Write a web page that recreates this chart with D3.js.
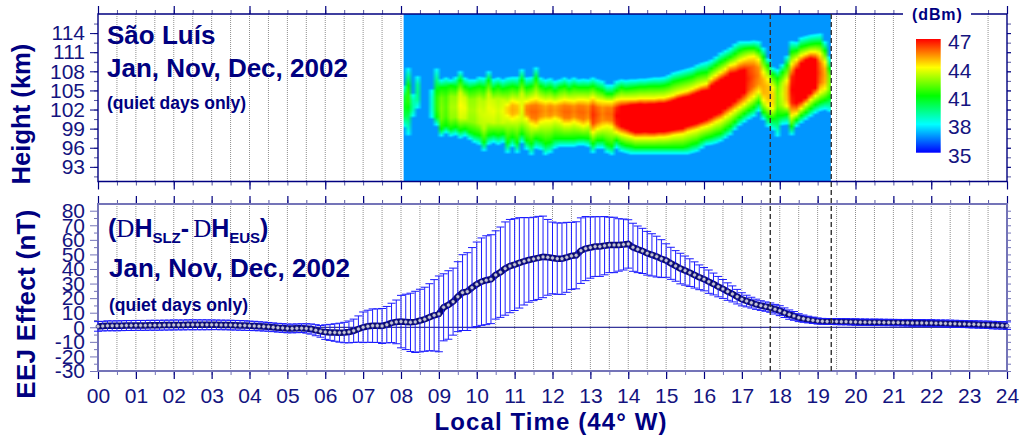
<!DOCTYPE html>
<html>
<head>
<meta charset="utf-8">
<script src="https://cdn.jsdelivr.net/npm/d3@7"></script>
<style>
body { margin: 0; background: #fff; }
text { font-family: "Liberation Sans", Arial, sans-serif; }
</style>
</head>
<body>
<svg id="chart" width="1020" height="436"></svg>
<script>
// heatmap columns, one every 1/8 h from 08:00 (heights in km of each power contour)
let heatStart = 8;
let heatStep = 1 / 8;
let heatClip = [8.07, 19.35];

let top38 = [
    105.6,108.4,104.3,107.1,null,null,105.0,108.3,
    106.6,106.9,106.6,107.0,107.9,106.9,106.6,106.6,
    107.0,106.9,107.9,106.7,106.9,106.6,106.9,107.0,
    107.0,108.2,106.9,107.0,108.5,106.9,106.6,106.8,
    106.4,106.6,106.9,106.6,106.9,106.6,106.7,106.6,
    106.9,106.6,106.4,105.8,105.8,106.4,106.6,106.5,
    106.6,106.6,106.7,106.7,106.8,106.9,106.9,107.0,
    107.3,107.7,107.9,108.1,108.3,108.5,108.9,109.2,
    109.4,109.7,110.2,110.8,111.2,111.6,112.2,112.6,
    112.6,112.6,112.7,112.6,111.6,109.9,108.5,108.2,
    109.0,110.3,112.6,112.5,113.2,113.4,113.6,113.7,
    113.8,112.6,110.2,109.0];
let top41 = [
    null,105.8,null,null,null,null,null,105.0,
    105.5,105.5,105.8,105.6,106.6,105.6,105.3,105.5,
    105.7,105.5,106.6,105.3,105.7,105.3,105.5,105.7,
    105.5,106.6,105.5,105.7,106.9,105.7,105.3,105.5,
    105.0,105.5,105.7,105.3,105.7,105.5,105.5,105.5,
    105.7,105.3,105.0,104.5,104.5,105.0,105.5,105.3,
    105.4,105.5,105.6,105.6,105.7,105.7,105.7,105.8,
    106.0,106.4,106.6,106.8,107.0,107.2,107.6,107.8,
    107.9,108.5,109.0,109.5,109.9,110.3,110.8,111.3,
    111.6,111.7,111.7,111.3,110.3,109.0,107.6,107.0,
    107.9,109.0,111.1,111.3,111.9,112.1,112.3,112.4,
    112.4,111.3,108.5,107.4];
let top44 = [
    null,null,null,null,null,null,null,null,
    null,null,null,null,null,null,null,null,
    null,null,null,null,null,null,102.8,103.4,
    103.2,null,103.3,103.6,103.8,103.5,103.3,103.4,
    103.2,103.4,103.6,103.5,103.4,103.6,103.6,103.5,
    103.9,103.5,103.4,103.3,103.3,103.6,103.7,103.7,
    103.7,103.7,103.8,103.8,103.8,103.8,103.9,103.9,
    104.1,104.3,104.6,104.8,105.0,105.3,105.6,105.9,
    106.1,106.9,107.4,107.9,108.4,109.0,109.2,109.7,
    110.0,110.3,110.4,109.9,107.9,106.8,105.5,null,
    null,106.6,109.2,109.9,110.5,110.8,111.1,111.1,
    110.8,109.5,null,null];
let bot44 = [
    null,null,null,null,null,null,null,null,
    null,null,null,null,null,null,null,null,
    null,null,null,null,null,null,101.1,100.6,
    100.9,null,100.6,99.8,99.5,100.1,100.3,100.3,
    100.6,100.3,99.8,99.8,100.1,99.8,99.5,99.8,
    98.5,99.0,99.3,99.5,99.3,98.5,98.2,98.0,
    97.8,97.6,97.6,97.6,97.6,97.6,97.7,97.7,
    97.8,98.0,98.1,98.2,98.5,98.7,98.9,99.2,
    99.4,99.7,100.1,100.4,100.9,101.4,101.9,102.4,
    102.9,103.5,104.1,104.8,103.5,102.7,102.2,null,
    null,102.6,101.1,101.4,102.2,102.9,103.6,104.2,
    104.8,105.3,null,null];
let bot41 = [
    null,102.4,null,null,null,null,null,100.9,
    99.0,99.5,99.0,99.3,98.8,99.0,98.5,98.2,
    98.0,96.9,98.0,98.2,98.0,98.2,96.9,97.7,
    96.9,98.2,97.2,96.7,97.5,97.2,96.7,96.9,
    97.5,97.5,97.5,97.5,97.5,97.6,97.6,97.5,
    96.7,97.2,97.2,96.6,96.3,97.2,96.7,96.4,
    96.3,96.1,96.1,96.1,96.1,96.1,96.1,96.1,
    96.1,96.1,96.1,96.1,96.3,96.6,96.8,97.3,
    97.6,97.8,98.1,98.3,98.9,99.4,100.1,100.8,
    101.4,101.9,102.4,103.1,101.6,100.9,100.6,101.1,
    101.1,101.3,99.4,100.4,101.1,101.6,102.2,102.8,
    103.2,103.5,104.0,103.7];
let bot38 = [
    99.5,98.2,101.1,102.4,null,null,100.9,99.7,
    98.0,98.5,98.0,98.2,97.7,98.0,97.5,97.0,
    96.7,95.7,96.7,97.0,96.7,97.0,95.4,96.4,
    95.4,97.0,95.9,95.1,96.1,95.9,95.1,95.4,
    96.1,96.4,96.4,96.4,96.4,96.6,96.6,96.4,
    95.4,96.1,96.1,95.4,95.1,96.1,95.6,95.4,
    95.2,95.2,95.2,95.2,95.2,95.2,95.2,95.2,
    95.2,95.2,95.2,95.2,95.2,95.4,95.6,96.1,
    96.6,96.7,96.9,97.2,97.7,98.2,99.0,99.7,
    100.2,100.7,101.1,101.9,100.6,99.5,99.0,98.0,
    99.8,99.9,98.2,99.5,100.1,100.6,101.1,101.6,
    102.0,102.2,101.9,101.9];
let peakPower = [
    40.5,41.5,39,39.5,null,null,38.5,41.5,
    42.5,42,43,43,44,43.8,43,43,
    43.5,43.5,43.8,43.8,43.5,43.8,44.5,45,
    44.8,43.8,45.5,45.8,45.8,45.5,45.2,45.5,
    45.2,45.5,45.8,45.8,45.5,45.8,45.8,45.5,
    46.5,46,45.5,45.8,45.8,47,48,48.5,
    49.5,50,50,49.5,50,50,50,50,
    50,50.5,50.5,50.5,50,50,50,50,
    49.5,49.5,49.5,49.5,49,49,48.5,48,
    47.5,46.5,46,45.5,45,44.8,44.5,42.5,
    43.5,44.8,47,48.5,50,51,50.5,49,
    46,45,42.5,42];

// EEJ effect, one value every 1/8 h from 00:00 to 24:00 (nT)
let eejMean = [
    0.6,0.8,1,1,1,1.1,1.2,1.2,
    1.3,1.3,1.3,1.4,1.4,1.4,1.5,1.5,
    1.6,1.6,1.6,1.7,1.7,1.7,1.7,1.7,
    1.7,1.7,1.6,1.6,1.5,1.4,1.3,1.2,
    1.0,0.9,0.7,0.5,0.3,0,-0.3,-0.5,
    -0.8,-0.8,-0.7,-0.6,-0.8,-1.2,-2,-2.8,
    -3.3,-3.5,-3.6,-3.7,-3.6,-3.2,-2.4,-1.2,
    0,0.7,1.1,1.1,0.9,1.8,3,3.7,
    3.9,3.7,3.4,3.7,4.6,5.5,6.9,8.2,
    9.2,13.7,15.3,17.6,21,23.8,24.5,27.2,
    29.5,31.3,32.3,33,35.9,37.8,40.3,42,
    43,44.2,45.3,46.2,46.9,47.6,48.3,48,
    47.6,47.1,47.1,48,49,49.4,52.6,54,
    54.7,55.4,55.4,56,56.5,56.5,56.5,56.8,
    57.2,54.9,53.5,52.4,50.8,49.7,48.5,47.1,
    45.8,43.9,42.1,40.3,38.9,37.5,35.9,34.3,
    33,31.3,29.7,27.9,26.3,24.5,22.9,21,
    19.2,18,16.9,15.8,14.9,14.2,13.5,12.4,
    11.4,10,8.7,7.8,6.6,5.9,5.3,4.8,
    4.3,4.1,4,4,3.9,3.8,3.8,3.7,
    3.6,3.5,3.5,3.4,3.4,3.4,3.3,3.3,
    3.2,3.2,3.1,3.1,3,3,3,2.9,
    2.9,2.8,2.7,2.6,2.5,2.4,2.3,2.2,
    2.1,2,1.9,1.8,1.7,1.5,1.4,1.3,
    1.1];
let eejSd = [
    3.3,3.3,3.4,3.4,3.4,3.4,3.4,3.4,
    3.4,3.4,3.4,3.4,3.4,3.4,3.4,3.4,
    3.4,3.4,3.4,3.4,3.4,3.4,3.4,3.4,
    3.3,3.3,3.3,3.3,3.3,3.3,3.3,3.3,
    3.2,3.2,3.1,3.1,3,3,3,3,
    3,3,3,3,3.2,3.5,3.8,4,
    5,5.5,6,6.5,7,7.5,8,9,
    10.5,11,11.5,11.5,12,12.5,13.5,15,
    18,19,20,21,21.5,22,23,24.5,
    26,23,23.5,23,24,26,26.7,27.5,
    29,30,30.5,30.5,30.3,31,32,32,
    31.5,31,30,29,28.6,28.5,28,26,
    24.6,24.5,24.5,24,23,23,22.5,22,
    21,20.5,20.5,20,19,19,18,17.5,
    16.6,16.5,16,15.5,15,14.5,14,13,
    11.5,11,10.5,10.5,10,9.5,9,8.5,
    8,8,7.5,7,6.5,6,5.5,5,
    4.5,4,3.7,3.5,3.3,3.2,3.2,3.3,
    3.4,3.3,3.2,3,2.7,2.5,2.3,2.2,
    2.1,2,2,2,2.1,2.1,2.1,2.1,
    2.2,2.2,2.2,2.2,2.2,2.2,2.2,2.2,
    2.2,2.2,2.2,2.3,2.3,2.3,2.3,2.3,
    2.3,2.3,2.3,2.4,2.4,2.4,2.4,2.4,
    2.4,2.5,2.5,2.5,2.5,2.6,2.6,2.6,
    2.6];
let eejStep = 1 / 8;

let hourLabels = ["00","01","02","03","04","05","06","07","08","09","10","11","12",
    "13","14","15","16","17","18","19","20","21","22","23","24"];
let heightTicks = [93, 96, 99, 102, 105, 108, 111, 114];
let eejTicks = [-30, -20, -10, 0, 10, 20, 30, 40, 50, 60, 70, 80];
let legendTicks = [35, 38, 41, 44, 47];
let legendColors = ["#0000ff", "#00ffff", "#00ff00", "#ffff00", "#ff0000"];
let boundaryHours = [17.75, 19.36];

let navy = "#000080";
let softNavy = "#7474b8";
let backgroundPower = 36.77;

let svg = d3.select("#chart");

let left = 98, right = 1007;
let topPanel = { y0: 14, y1: 181.5 };
let botPanel = { y0: 204, y1: 371 };

let xScale = d3.scaleLinear().domain([0, 24]).range([left, right]);
let yHeight = d3.scaleLinear().domain([90.7, 117]).range([topPanel.y1, topPanel.y0]);
let yEej = d3.scaleLinear().domain([-30, 84.6]).range([botPanel.y1, botPanel.y0]);
let colorScale = d3.scaleLinear().domain(legendTicks).range(legendColors).clamp(true);

let halfHours = d3.range(0, 24.5, 0.5);
let wholeHours = d3.range(0, 25, 1);
let evenHours = d3.range(0, 25, 2);

// dotted half hour lines, both panels
[topPanel, botPanel].forEach(function(p) {
    svg.append("g").selectAll("line")
        .data(halfHours.filter(function(h) { return h > 0 && h < 24; }))
        .enter().append("line")
        .attr("x1", function(d) { return xScale(d); })
        .attr("x2", function(d) { return xScale(d); })
        .attr("y1", p.y0).attr("y2", p.y1)
        .attr("stroke", "#8f8f8f")
        .attr("stroke-width", 1)
        .attr("stroke-dasharray", "1,1");
});

// power at any height in one column, from the contours of that column
function columnProfile(i) {
    if (top38[i] === null) return function() { return backgroundPower; };
    let upper = top44[i] !== null ? top44[i] : (top41[i] !== null ? top41[i] : top38[i]);
    let lower = bot44[i] !== null ? bot44[i] : (bot41[i] !== null ? bot41[i] : bot38[i]);
    let edgeLevel = bot44[i] !== null ? 44 : (bot41[i] !== null ? 41 : 38);
    let mid = (upper + lower) / 2;
    // the core is rounded, not a sharp peak
    let shoulder = edgeLevel + (peakPower[i] - edgeLevel) * 0.85;
    let hs = [bot38[i] - 0.4, bot38[i]], vs = [backgroundPower, 38];
    if (bot41[i] !== null) { hs.push(bot41[i]); vs.push(41); }
    if (bot44[i] !== null) { hs.push(bot44[i]); vs.push(44); }
    hs.push((lower + mid) / 2, mid, (upper + mid) / 2);
    vs.push(shoulder, peakPower[i], shoulder);
    if (top44[i] !== null) { hs.push(top44[i]); vs.push(44); }
    if (top41[i] !== null) { hs.push(top41[i]); vs.push(41); }
    hs.push(top38[i]); vs.push(38);
    hs.push(top38[i] + 0.4); vs.push(backgroundPower);
    return d3.scaleLinear().domain(hs).range(vs).clamp(true);
}

// heatmap goes on a small canvas, the browser smooths it when scaled up
let heightRows = d3.range(117, 90.7, -0.1);
let canvas = document.createElement("canvas");
canvas.width = top38.length;
canvas.height = heightRows.length;
let ctx = canvas.getContext("2d");
top38.forEach(function(v, i) {
    let profile = columnProfile(i);
    heightRows.forEach(function(h, j) {
        ctx.fillStyle = colorScale(profile(h));
        ctx.fillRect(i, j, 1, 1);
    });
});

svg.append("clipPath").attr("id", "heatClip")
    .append("rect")
    .attr("x", xScale(heatClip[0]))
    .attr("width", xScale(heatClip[1]) - xScale(heatClip[0]))
    .attr("y", topPanel.y0)
    .attr("height", topPanel.y1 - topPanel.y0);

svg.append("image")
    .attr("clip-path", "url(#heatClip)")
    .attr("href", canvas.toDataURL())
    .attr("preserveAspectRatio", "none")
    .attr("x", xScale(heatStart))
    .attr("width", xScale(heatStart + top38.length * heatStep) - xScale(heatStart))
    .attr("y", yHeight(117))
    .attr("height", yHeight(90.7) - yHeight(117));

// white box behind the legend
svg.append("rect").attr("x", 903).attr("y", 4).attr("width", 68).attr("height", 176).attr("fill", "#fff");

function styleAxis(g, color, width) {
    g.select(".domain").remove();
    g.selectAll("line").attr("stroke", color).attr("stroke-width", width);
    g.selectAll("text")
        .attr("fill", "#14147f")
        .style("font-family", '"Liberation Sans", Arial, sans-serif')
        .style("font-size", "21px");
}

function addAxis(axisFn, scale, values, size, tx, ty, color, labels, width) {
    let axis = axisFn(scale).tickValues(values).tickSize(size).tickPadding(5)
        .tickFormat(labels || function() { return ""; });
    let g = svg.append("g").attr("transform", "translate(" + tx + "," + ty + ")").call(axis);
    styleAxis(g, color, width || 1);
    return g;
}

// top panel ticks: long ones every 2 h, short every half hour (none under the legend box on top)
let topHalf = halfHours.filter(function(h) { return xScale(h) < 903 || xScale(h) > 971; });
let topEven = evenHours.filter(function(h) { return xScale(h) < 903 || xScale(h) > 971; });
addAxis(d3.axisTop, xScale, topHalf, 4, 0, topPanel.y0, "#55559f");
addAxis(d3.axisTop, xScale, topEven, 8, 0, topPanel.y0, navy, null, 1.2);
addAxis(d3.axisBottom, xScale, halfHours, 4, 0, topPanel.y1, "#55559f");
addAxis(d3.axisBottom, xScale, evenHours, 8, 0, topPanel.y1, navy, null, 1.2);

let heightMinor = d3.range(91.5, 117, 1.5);
addAxis(d3.axisLeft, yHeight, heightMinor, 4, left, 0, "#55559f");
addAxis(d3.axisLeft, yHeight, heightTicks, 8, left, 0, navy, function(d) { return d; });
addAxis(d3.axisRight, yHeight, heightMinor, 4, right, 0, "#55559f");
addAxis(d3.axisRight, yHeight, heightTicks, 4, right, 0, navy);

// bottom panel ticks
addAxis(d3.axisTop, xScale, halfHours, 4, 0, botPanel.y0, "#55559f");
addAxis(d3.axisTop, xScale, wholeHours, 8, 0, botPanel.y0, navy, null, 1.2);
addAxis(d3.axisBottom, xScale, halfHours, 4, 0, botPanel.y1, softNavy);
addAxis(d3.axisBottom, xScale, wholeHours, 8, 0, botPanel.y1, navy, function(d) { return hourLabels[d]; }, 1.2)
    .selectAll("text").attr("dy", "0.92em");

let eejMinor = d3.range(-25, 85, 10);
addAxis(d3.axisLeft, yEej, eejMinor, 4, left, 0, softNavy);
addAxis(d3.axisLeft, yEej, eejTicks, 8, left, 0, softNavy, function(d) { return d; });
addAxis(d3.axisRight, yEej, eejMinor, 4, right, 0, softNavy);
addAxis(d3.axisRight, yEej, eejTicks, 4, right, 0, softNavy);

// frames
svg.append("path")
    .attr("d", "M903," + topPanel.y0 + "H" + left + "V" + topPanel.y1 + "H" + right + "V" + topPanel.y0 + "H971")
    .attr("fill", "none").attr("stroke", navy).attr("stroke-width", 1.4);
svg.append("rect")
    .attr("x", left).attr("y", botPanel.y0)
    .attr("width", right - left).attr("height", botPanel.y1 - botPanel.y0)
    .attr("fill", "none").attr("stroke", softNavy).attr("stroke-width", 2);

// zero line
svg.append("line")
    .attr("x1", left).attr("x2", right)
    .attr("y1", yEej(0)).attr("y2", yEej(0))
    .attr("stroke", navy).attr("stroke-width", 1);

let eejPoints = eejMean.map(function(m, i) {
    return { t: i * eejStep, mean: m, hi: m + eejSd[i], lo: m - eejSd[i] };
});

// mean line and dark marker rims, under the error bars
let line = d3.line()
    .x(function(d) { return xScale(d.t); })
    .y(function(d) { return yEej(d.mean); });
svg.append("path").datum(eejPoints)
    .attr("d", line)
    .attr("fill", "none").attr("stroke", "#0a0a70").attr("stroke-width", 6.5);

// error bars
let capHalf = 4;
let bars = svg.append("g").attr("stroke", "#1a1aff").attr("stroke-width", 1).attr("fill", "none");
bars.selectAll("path")
    .data(eejPoints)
    .enter().append("path")
    .attr("d", function(d) {
        let x = xScale(d.t);
        let hi = yEej(d.hi), lo = yEej(d.lo);
        return "M" + x + "," + hi + "V" + lo
            + "M" + (x - capHalf) + "," + hi + "H" + (x + capHalf)
            + "M" + (x - capHalf) + "," + lo + "H" + (x + capHalf);
    });

// marker centres
svg.append("g").selectAll("circle")
    .data(eejPoints)
    .enter().append("circle")
    .attr("cx", function(d) { return xScale(d.t); })
    .attr("cy", function(d) { return yEej(d.mean); })
    .attr("r", 2)
    .attr("fill", "#c4c4d2")
    .attr("stroke", "#0a0a70")
    .attr("stroke-width", 0.6);

// dashed lines across both panels
svg.append("g").selectAll("line")
    .data(boundaryHours)
    .enter().append("line")
    .attr("x1", function(d) { return xScale(d); })
    .attr("x2", function(d) { return xScale(d); })
    .attr("y1", topPanel.y0).attr("y2", botPanel.y1)
    .attr("stroke", "#333")
    .attr("stroke-width", 1.4)
    .attr("stroke-dasharray", "5,3");

// legend
let legendY = d3.scaleLinear().domain([35, 47]).range([152.7, 39]);
let legendLabelY = d3.scaleLinear().domain([35, 47]).range([155, 41.7]);
let defs = svg.append("defs");
let grad = defs.append("linearGradient").attr("id", "legendGrad")
    .attr("x1", 0).attr("x2", 0).attr("y1", 1).attr("y2", 0);
legendTicks.forEach(function(v, i) {
    grad.append("stop")
        .attr("offset", (v - 35) / 12)
        .attr("stop-color", legendColors[i]);
});
svg.append("rect")
    .attr("x", 916).attr("width", 24.7)
    .attr("y", legendY(47)).attr("height", legendY(35) - legendY(47))
    .attr("fill", "url(#legendGrad)");
svg.append("g").selectAll("text")
    .data(legendTicks)
    .enter().append("text")
    .attr("x", 948)
    .attr("y", function(d) { return legendLabelY(d) + 7.5; })
    .attr("fill", "#14147f")
    .style("font-size", "21px")
    .text(function(d) { return d; });
svg.append("text")
    .attr("x", 912).attr("y", 20)
    .attr("fill", navy)
    .style("font-size", "16px").style("font-weight", "bold").style("letter-spacing", "0.9px")
    .text("(dBm)");

function title(x, y, size, str) {
    return svg.append("text")
        .attr("x", x).attr("y", y)
        .attr("fill", navy)
        .style("font-size", size + "px").style("font-weight", "bold")
        .text(str);
}

// top panel text
title(107, 44, 26, "São Luís");
title(107, 77, 26, "Jan, Nov, Dec, 2002");
title(107, 109, 17.5, "(quiet days only)");

// bottom panel text
let diffTitle = title(108, 237, 25, "(");
diffTitle.append("tspan").style("font-family", '"Liberation Serif", serif').style("font-weight", "normal").text("D");
diffTitle.append("tspan").text("H");
diffTitle.append("tspan").attr("dy", 6).style("font-size", "15px").text("SLZ");
diffTitle.append("tspan").attr("dy", -6).text("-");
diffTitle.append("tspan").attr("dx", 4).style("font-family", '"Liberation Serif", serif').style("font-weight", "normal").text("D");
diffTitle.append("tspan").text("H");
diffTitle.append("tspan").attr("dy", 6).style("font-size", "15px").text("EUS");
diffTitle.append("tspan").attr("dy", -6).text(")");
title(109, 277, 26, "Jan, Nov, Dec, 2002");
title(109, 311, 17.5, "(quiet days only)");

// axis titles
function axisTitle(x, y, rotate, str, size, spacing) {
    return svg.append("text")
        .attr("transform", "translate(" + x + "," + y + ")" + (rotate ? " rotate(-90)" : ""))
        .attr("text-anchor", "middle")
        .attr("fill", navy)
        .style("font-size", size + "px").style("font-weight", "bold").style("letter-spacing", spacing + "px")
        .text(str);
}
axisTitle(30, 114, true, "Height (km)", 25.6, 0);
axisTitle(35, 304, true, "EEJ Effect (nT)", 26, 0.3);
axisTitle(551, 430, false, "Local Time (44° W)", 24, 1.1);
</script>
</body>
</html>
